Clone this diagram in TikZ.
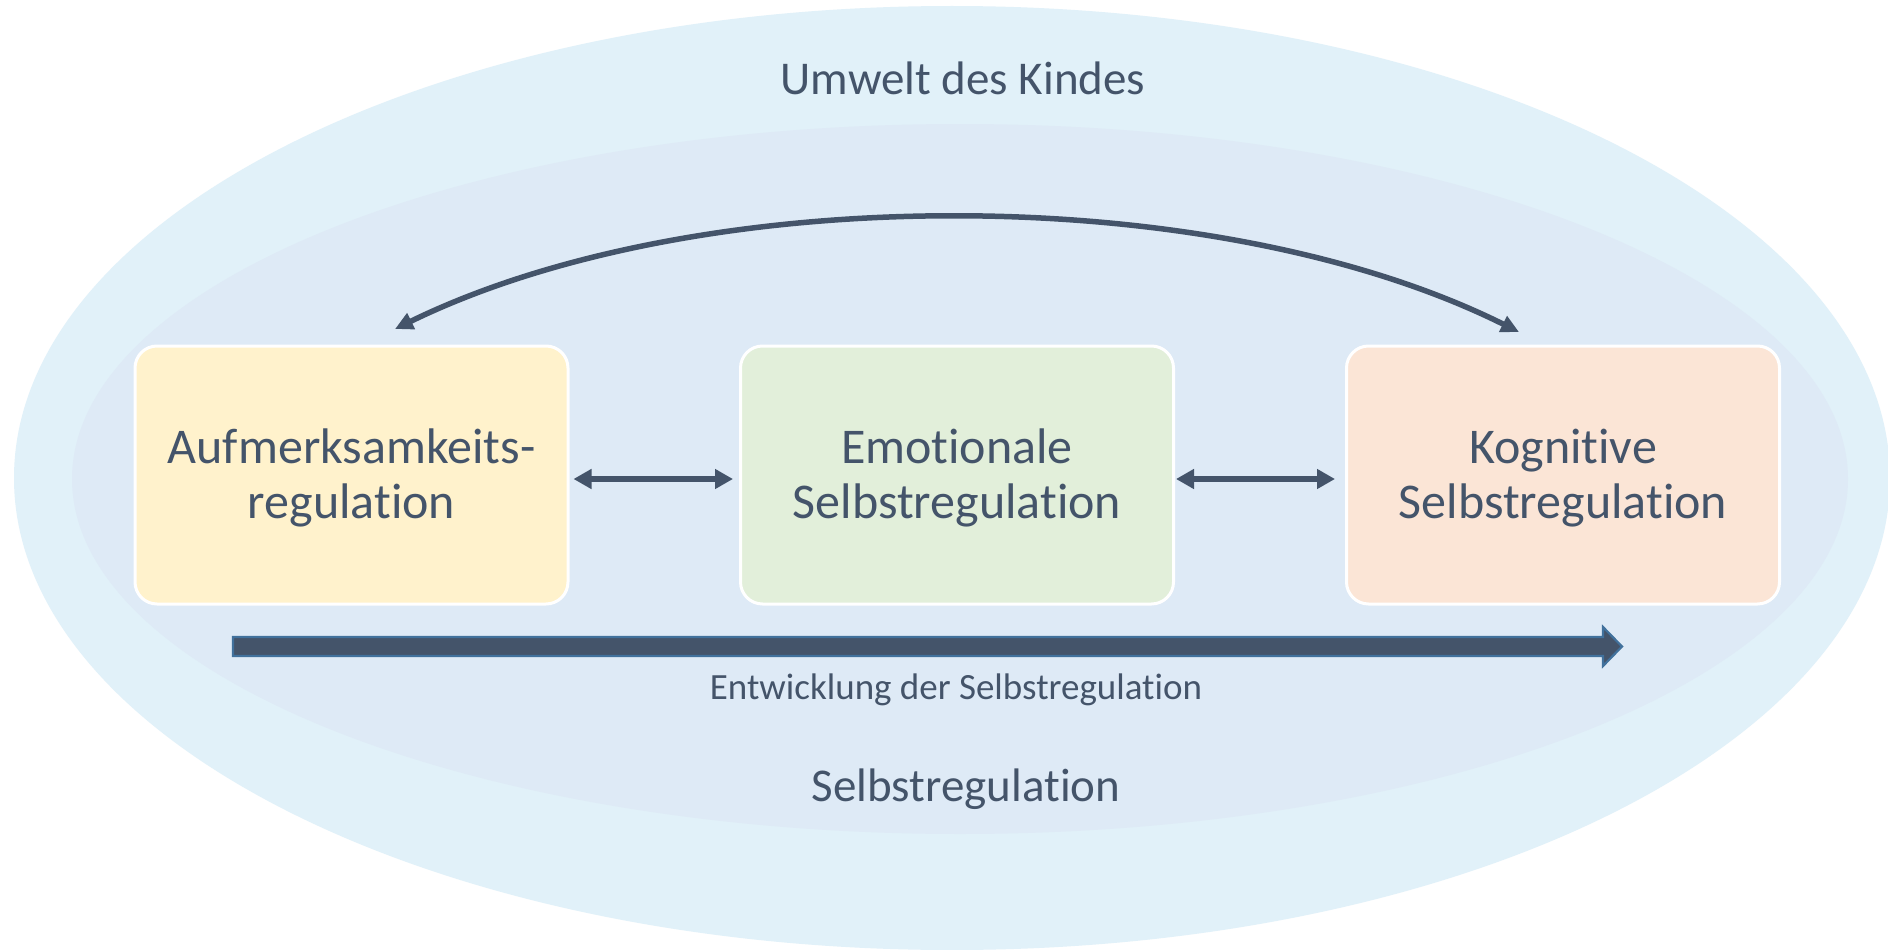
\documentclass[tikz,border=0pt]{standalone}
\usepackage{fontspec}
\setmainfont{Carlito}[Ligatures={NoCommon}]
\usetikzlibrary{arrows.meta,calc}
\definecolor{outerC}{HTML}{E1F1F9}
\definecolor{innerC}{HTML}{DEEAF6}
\definecolor{yellowC}{HTML}{FFF2CC}
\definecolor{greenC}{HTML}{E2EFDA}
\definecolor{peachC}{HTML}{FBE5D6}
\definecolor{textC}{HTML}{44546A}
\definecolor{rimC}{HTML}{41719C}
\tikzset{
  box/.style={draw=white, line width=3pt, rounded corners=22pt,
    minimum width=433pt, minimum height=258pt, align=center,
    text=textC, font=\fontsize{50}{55}\selectfont},
  lbl/.style={text=textC, font=\fontsize{47}{52}\selectfont},
  small/.style={text=textC, font=\fontsize{37}{42}\selectfont},
  dbl/.style={draw=textC, line width=6.5pt,
    {Triangle[length=18pt,width=19pt]}-{Triangle[length=18pt,width=19pt]}},
  curv/.style={draw=textC, line width=5.5pt,
    {Triangle[length=18pt,width=17pt]}-{Triangle[length=18pt,width=17pt]}},
  bigarrow/.style={fill=textC, draw=rimC, line width=2.2pt, line join=miter}
}
\begin{document}
\begin{tikzpicture}[x=1pt,y=-1pt]
\useasboundingbox (0,0) rectangle (1888,950);
\fill[white] (0,0) rectangle (1888,950);
\begin{scope}
\clip (0,0) rectangle (1888,950);
\fill[outerC] (952,478) ellipse [x radius=938pt, y radius=472pt];
\fill[innerC] (960,479) ellipse [x radius=888pt, y radius=355pt];
\end{scope}

\node[lbl] (umwelt) at (963,78) {Umwelt des Kindes};
\node[lbl] (selbst) at (966,789) {Selbstregulation};

\node[box, fill=yellowC] (b1) at (351.5,475) {};
\node[box, fill=greenC] (b2) at (957,475) {};
\node[box, fill=peachC] (b3) at (1563,475) {};
\node[box, draw=none, minimum width=0pt, minimum height=0pt] (t1) at ($(b1.center)+(0,3)$) {Aufmerksamkeits-\\regulation};
\node[box, draw=none, minimum width=0pt, minimum height=0pt] (t2) at ($(b2.center)+(0,3)$) {Emotionale\\Selbstregulation};
\node[box, draw=none, minimum width=0pt, minimum height=0pt] (t3) at ($(b3.center)+(0,3)$) {Kognitive\\Selbstregulation};

\draw[dbl, shorten <=4pt, shorten >=6pt] ($(b1.east)+(0,4)$) -- ($(b2.west)+(0,4)$);
\draw[dbl, shorten <=1pt, shorten >=10pt] ($(b2.east)+(0,4)$) -- ($(b3.west)+(0,4)$);

\coordinate (cl) at (395,329);
\coordinate (cr) at (1519,332);
\draw[curv] (cl) .. controls (700,180) and (1214,180) .. (cr);

\coordinate (ds) at (233,646.5);
\coordinate (de) at (1622,646.5);
\draw[bigarrow] ($(ds)+(0,-9.5)$) -- ($(de)+(-19,-9.5)$) -- ($(de)+(-19,-19.5)$)
  -- (de) -- ($(de)+(-19,19.5)$) -- ($(de)+(-19,9.5)$) -- ($(ds)+(0,9.5)$) -- cycle;
\node[small] (entw) at (956,690) {Entwicklung der Selbstregulation};
\end{tikzpicture}
\end{document}
